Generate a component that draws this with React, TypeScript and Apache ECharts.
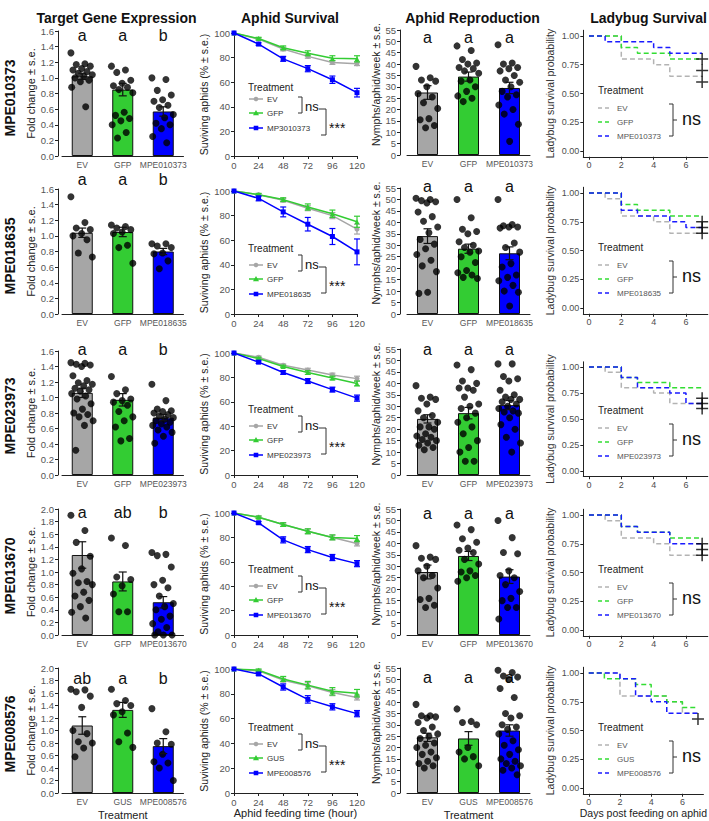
import React, { useEffect, useRef } from "react";
import * as echarts from "echarts";

const FONT = "'Liberation Sans', Arial, Helvetica, sans-serif";

// ---------------- data ----------------
const columnTitles = ["Target Gene Expression", "Aphid Survival", "Aphid Reproduction", "Ladybug Survival"];
const rowGenes = ["MPE010373", "MPE018635", "MPE023973", "MPE013670", "MPE008576"];
const survivalKDLabels = ["MP3010373", "MPE018635", "MPE023973", "MPE013670", "MPE008576"];
const controlNames = ["GFP", "GFP", "GFP", "GFP", "GUS"];

// Target gene expression (fold change)
const geneMax = [1.6, 1.6, 1.6, 2.0, 2.0];
const geneMeans = [
  [1.02, 0.85, 0.57],
  [1.04, 1.05, 0.8],
  [1.06, 0.97, 0.74],
  [1.27, 0.85, 0.52],
  [1.08, 1.33, 0.75],
];
const geneSE = [
  [0.04, 0.08, 0.06],
  [0.06, 0.06, 0.04],
  [0.06, 0.08, 0.04],
  [0.21, 0.15, 0.09],
  [0.14, 0.12, 0.12],
];
const geneLetters = [
  ["a", "a", "b"],
  ["a", "a", "b"],
  ["a", "a", "b"],
  ["a", "ab", "b"],
  ["ab", "a", "b"],
];
const geneDots1 = [
  [1.32, 1.18, 1.17, 1.15, 1.12, 1.1, 1.08, 1.06, 1.04, 1.02, 1.0, 0.97, 0.95, 0.88, 0.63],
  [1.15, 1.1, 1.07, 0.97, 0.93, 0.9, 0.88, 0.85, 0.81, 0.56, 0.52, 0.48, 0.45, 0.4, 0.3, 0.23],
  [1.0, 0.98, 0.84, 0.78, 0.72, 0.7, 0.65, 0.62, 0.53, 0.49, 0.42, 0.4, 0.35, 0.25, 0.17],
];
const geneDots2 = [
  [1.5, 1.17, 1.1, 1.08, 1.03, 1.0, 0.95, 0.78, 0.73],
  [1.14, 1.12, 1.1, 1.08, 1.05, 1.03, 0.88, 0.85, 0.65],
  [0.9, 0.9, 0.87, 0.85, 0.78, 0.77, 0.68, 0.58],
];
const geneDots3 = [
  [1.45, 1.44, 1.43, 1.42, 1.4, 1.28, 1.22, 1.19, 1.17, 1.15, 1.12, 1.1, 1.08, 1.05, 1.02, 0.98, 0.92, 0.85, 0.8, 0.78, 0.75, 0.7, 0.64, 0.32],
  [1.27, 1.1, 1.05, 0.98, 0.96, 0.94, 0.9, 0.82, 0.75, 0.7, 0.62, 0.47, 0.44],
  [1.17, 0.96, 0.85, 0.83, 0.82, 0.8, 0.78, 0.76, 0.74, 0.72, 0.7, 0.68, 0.66, 0.64, 0.62, 0.58, 0.55, 0.5, 0.41],
];
const geneDots4 = [
  [1.9, 1.66, 1.47, 1.25, 1.05, 0.98, 0.85, 0.83, 0.8, 0.68, 0.62, 0.55, 0.45, 0.36, 0.27],
  [1.54, 1.42, 0.92, 0.88, 0.78, 0.65, 0.37, 0.37],
  [1.31, 1.28, 1.26, 1.08, 0.87, 0.8, 0.75, 0.62, 0.5, 0.45, 0.4, 0.3, 0.25, 0.18, 0.12, 0.05, 0.0, 0.0, 0.0],
];
const geneDots5 = [
  [1.66, 1.65, 1.62, 1.55, 1.37, 1.0, 0.95, 0.82, 0.8, 0.72, 0.58],
  [1.66, 1.48, 1.43, 1.4, 1.3, 1.25, 0.96, 0.82, 0.73],
  [1.35, 0.98, 0.8, 0.78, 0.62, 0.5, 0.48, 0.4, 0.2],
];

// Aphid survival (% surviving) at feeding hours
const hours = [0, 24, 48, 72, 96, 120];
const survEV = [
  [100, 95, 87, 81, 76, 75],
  [100, 97, 92.5, 86, 80, 69],
  [100, 96.5, 90, 86, 82, 79],
  [100, 96.5, 90.5, 85, 80, 75],
  [100, 98.5, 91, 86.5, 81, 77],
];
const survCtl = [
  [100, 95.5, 88, 83.5, 79.5, 79],
  [100, 97, 93, 87, 81.5, 75],
  [100, 95.5, 89, 84, 79.5, 75],
  [100, 96.5, 90.5, 85, 80, 79],
  [100, 99, 92, 87, 82, 80.5],
];
const survKD = [
  [100, 91, 79, 71, 62, 51.5],
  [100, 94, 83, 73, 63, 50.5],
  [100, 92.5, 84, 77, 70, 63],
  [100, 92, 78, 70, 63.5, 58.5],
  [100, 96, 85.5, 75.5, 69.5, 64],
];
const survEVse = [
  [0, 1, 1.5, 1.5, 1.5, 1.5],
  [0, 1, 1.5, 2, 2.5, 4],
  [0, 1, 1, 1.5, 1.5, 2],
  [0, 1, 1.5, 2, 2, 2],
  [0, 1, 1.5, 2.5, 2.5, 2],
];
const survCtlSe = [
  [0, 1, 1.5, 2, 2, 2.5],
  [0, 1, 1.5, 2.5, 3, 4.5],
  [0, 1, 1, 1.5, 1.5, 2],
  [0, 1, 1.5, 2, 2, 2.5],
  [0, 1, 2, 3, 3, 3],
];
const survKDse = [
  [0, 1, 2, 2.5, 3, 3.5],
  [0, 2, 4, 5.5, 6.5, 10.5],
  [0, 1, 1.5, 2, 2, 2.5],
  [0, 1, 2.5, 2.5, 2.5, 2.5],
  [0, 1, 2.5, 3, 2.5, 2.5],
];

// Aphid reproduction (nymphs/aphid/week)
const reproMeans = [
  [27.5, 34.5, 29.5],
  [34, 28.5, 26.5],
  [24.5, 27, 30.5],
  [27.5, 34.5, 25.5],
  [24.5, 24, 27.5],
];
const reproSE = [
  [3, 2, 2.5],
  [3.2, 2, 2.8],
  [1.8, 2.5, 2],
  [3, 2, 3],
  [1.8, 3, 2.5],
];
const reproDots1 = [
  [39, 34, 33, 32.5, 30, 27, 25.5, 23, 20.5, 16, 15.5, 13, 12],
  [48, 46, 42, 40.5, 40, 38.5, 38, 37, 36, 33, 32.5, 30, 28, 26, 25, 23.5],
  [48.5, 40.5, 40, 38.5, 38, 37, 35, 33, 32, 30, 28, 26.5, 25.5, 22, 20, 18, 13.5, 6],
];
const reproDots2 = [
  [50.5, 50, 49.5, 49, 48.5, 44.5, 42.5, 40.5, 38, 35.5, 32.5, 30.5, 28.5, 26, 23.5, 21, 18.5, 9.5, 9],
  [50, 42, 37, 36, 35, 31.5, 30, 29, 27.5, 27, 25, 22.5, 19, 18, 17, 16, 15.5],
  [50, 39, 38.5, 38, 38, 37.5, 31, 29, 27, 22, 20.5, 17, 16, 14.5, 12.5, 10, 9.5, 3.5],
];
const reproDots3 = [
  [39, 34, 33.5, 33, 31, 28, 26, 25, 23, 21, 21, 20, 18, 17, 16.5, 15.5, 15, 14, 13, 12, 11],
  [48, 46, 41, 40, 38, 38, 37, 34, 31, 30, 29, 27, 25, 23, 21, 18, 15, 12, 10, 6, 6],
  [48.5, 48.5, 43, 42, 41, 37, 35, 34, 33, 33, 32, 31, 30, 29, 28, 27.5, 27, 25, 22, 20, 16.5, 14, 10],
];
const reproDots4 = [
  [39, 34, 33.5, 33, 30, 28, 26, 25, 20.5, 16, 15.5, 13, 12],
  [48, 46, 42, 40.5, 38, 37, 36, 33, 31, 28, 27.5, 26, 25, 23.5],
  [50, 42.5, 36, 35.5, 28, 26, 25, 22, 19, 16, 15, 12, 12, 7],
];
const reproDots5 = [
  [39, 34, 34, 33.5, 33, 31, 29, 27.5, 26, 25, 24, 22, 21, 20, 18, 17, 15.5, 14, 13, 12, 11],
  [37, 31.5, 31, 30, 20, 18, 16, 15, 12],
  [54, 53, 51.5, 51, 50, 46, 42, 35, 34, 33, 30, 29, 28, 26, 23, 21, 19, 17, 15, 14, 13, 12, 11, 10, 8],
];
const reproLetters = [
  ["a", "a", "a"],
  ["a", "a", "a"],
  ["a", "a", "a"],
  ["a", "a", "a"],
  ["a", "a", "a"],
];

// Ladybug survival (Kaplan–Meier steps: [day, probability])
const kmEV = [
  [[0, 1], [2, 0.8], [4, 0.75], [5, 0.65], [7, 0.65]],
  [[0, 1], [1, 0.95], [2, 0.8], [4, 0.75], [5, 0.65], [7, 0.65]],
  [[0, 1], [1, 0.95], [2, 0.8], [4, 0.75], [5, 0.65], [7, 0.65]],
  [[0, 1], [1, 0.95], [2, 0.8], [4, 0.75], [5, 0.65], [7, 0.65]],
  [[0, 1], [2, 0.8], [5, 0.75], [6, 0.65], [7, 0.65]],
];
const kmCtl = [
  [[0, 1], [2, 0.9], [3, 0.85], [5, 0.8], [7, 0.8]],
  [[0, 1], [2, 0.9], [3, 0.85], [5, 0.8], [7, 0.8]],
  [[0, 1], [2, 0.9], [3, 0.85], [5, 0.8], [7, 0.8]],
  [[0, 1], [2, 0.9], [3, 0.85], [5, 0.8], [7, 0.8]],
  [[0, 1], [1, 0.95], [3, 0.9], [4, 0.8], [5, 0.75], [6, 0.7], [7, 0.7]],
];
const kmKD = [
  [[0, 1], [1, 0.95], [4, 0.9], [5, 0.85], [7, 0.85]],
  [[0, 1], [2, 0.85], [3, 0.8], [5, 0.75], [6, 0.7], [7, 0.7]],
  [[0, 1], [2, 0.9], [3, 0.8], [5, 0.75], [6, 0.65], [7, 0.65]],
  [[0, 1], [2, 0.9], [3, 0.85], [5, 0.75], [7, 0.75]],
  [[0, 1], [2, 0.95], [3, 0.8], [4, 0.75], [5, 0.65], [7, 0.65]],
];
const censorDay = 7;
const censorMarks = [
  [0.8, 0.7, 0.6],
  [0.75, 0.7, 0.65],
  [0.7, 0.65, 0.6],
  [0.75, 0.7, 0.65],
  [0.6],
];
const ladyTicksX = [0, 2, 4, 6];
const ladyTicksY = [0, 0.25, 0.5, 0.75, 1.0];

const geneDots = [geneDots1, geneDots2, geneDots3, geneDots4, geneDots5];
const reproDots = [reproDots1, reproDots2, reproDots3, reproDots4, reproDots5];

// ---------------- layout / style ----------------
const geneTop = [31, 189, 351, 509, 668];
const geneBot = [156, 314, 475, 635, 793];
const survTop = [33, 191, 353, 513, 669];
const survBot = [156, 314, 475, 635, 793];
const reproTop = [30, 188, 349, 509, 668];
const reproBot = [155, 314, 475, 635, 793];
const ladyY1 = [36, 193, 367, 515, 673];
const ladyY0 = [151, 308, 471, 630, 788];
const rowLabelY = [98, 256, 416, 576, 734];
const geneLetterY = [35, 179, 349, 512, 678];
const reproLetterY = [37, 186, 349, 513, 677];

const barColors = ["#a6a6a6", "#33cc33", "#0000ff"];
const lineColors = ["#a6a6a6", "#33cc33", "#0000ff"];
const kmColors = ["#b3b3b3", "#33dd33", "#1a1aff"];
const AX = "#222";
const LBL = "#555";

function jitter(j: number, n: number) {
  if (n <= 1) return 0;
  const f = (j * 0.618034) % 1;
  return (f - 0.5) * 0.56;
}

function errRender(color: string, cap: number, lw: number) {
  return (_params: any, api: any) => {
    const x = api.value(0);
    const lo = api.coord([x, api.value(1)]);
    const hi = api.coord([x, api.value(2)]);
    const st = { stroke: color, lineWidth: lw };
    return {
      type: "group",
      children: [
        { type: "line", shape: { x1: lo[0], y1: lo[1], x2: hi[0], y2: hi[1] }, style: st },
        { type: "line", shape: { x1: lo[0] - cap, y1: lo[1], x2: lo[0] + cap, y2: lo[1] }, style: st },
        { type: "line", shape: { x1: hi[0] - cap, y1: hi[1], x2: hi[0] + cap, y2: hi[1] }, style: st },
      ],
    };
  };
}

const PLUS = "path://M0,5.25h12v1.5h-12z M5.25,0h1.5v12h-1.5z";

function buildOption() {
  const grids: any[] = [];
  const xAxes: any[] = [];
  const yAxes: any[] = [];
  const series: any[] = [];
  const g: any[] = [];

  const addGrid = (o: any) => { grids.push({ containLabel: false, ...o }); return grids.length - 1; };
  const addX = (o: any) => { xAxes.push(o); return xAxes.length - 1; };
  const addY = (o: any) => { yAxes.push(o); return yAxes.length - 1; };

  const axisLine = { show: true, onZero: false, lineStyle: { color: AX, width: 1 } };
  const axisTick = { show: true, length: 3, lineStyle: { color: AX, width: 1 } };
  const lab = (size: number, extra: any = {}) => ({ color: LBL, fontSize: size, fontFamily: FONT, margin: 4, ...extra });
  const nameStyle = (size: number, color = "#222") => ({ color, fontSize: size, fontFamily: FONT });

  const text = (x: number, y: number, t: string, size: number, opts: any = {}) => {
    g.push({
      type: "text",
      x,
      y,
      rotation: opts.rotation || 0,
      silent: true,
      style: {
        text: t,
        fill: opts.color || "#111",
        fontSize: size,
        fontFamily: FONT,
        fontWeight: opts.bold ? "bold" : "normal",
        align: opts.align || "left",
        verticalAlign: opts.valign || "middle",
      },
    });
  };
  const poly = (pts: number[][], color = "#333", lw = 1, dash?: number[]) => {
    g.push({
      type: "polyline",
      silent: true,
      shape: { points: pts },
      style: { stroke: color, fill: null, lineWidth: lw, lineDash: dash },
    });
  };

  // column titles
  const titleX = [116.5, 290, 472.5, 648.5];
  columnTitles.forEach((t, i) => text(titleX[i], 18, t, 14, { bold: true, align: "center" }));

  for (let r = 0; r < 5; r++) {
    const last = r === 4;
    const cats = ["EV", controlNames[r], rowGenes[r]];

    // row label
    text(10, rowLabelY[r], rowGenes[r], 14, { bold: true, align: "center", rotation: Math.PI / 2 });

    // ---------- gene expression ----------
    {
      const left = 62, width = 121.5;
      const gi = addGrid({ left, top: geneTop[r], width, height: geneBot[r] - geneTop[r] });
      const cx = addX({
        type: "category", gridIndex: gi, data: cats,
        axisLine, axisTick: { show: false },
        axisLabel: lab(8.5, { interval: 0 }),
        name: last ? "Treatment" : "", nameLocation: "middle", nameGap: 16,
        nameTextStyle: nameStyle(11),
      });
      const vx = addX({ type: "value", gridIndex: gi, min: -0.5, max: 2.5, show: false });
      const gy = addY({
        type: "value", gridIndex: gi, min: 0, max: geneMax[r], interval: 0.2, offset: 4,
        axisLine, axisTick, splitLine: { show: false },
        axisLabel: lab(9.5, { formatter: (v: number) => v.toFixed(1) }),
        name: "Fold change ± s.e.", nameLocation: "middle", nameRotate: 90, nameGap: 20,
        nameTextStyle: nameStyle(11),
      });
      series.push({
        type: "bar", xAxisIndex: cx, yAxisIndex: gy, barWidth: 21, z: 2, silent: true,
        itemStyle: { borderColor: "#111", borderWidth: 1 },
        data: geneMeans[r].map((v, i) => ({ value: v, itemStyle: { color: barColors[i] } })),
      });
      series.push({
        type: "scatter", xAxisIndex: vx, yAxisIndex: gy, symbolSize: 7, z: 3, silent: true,
        itemStyle: { color: "#000" },
        data: geneDots[r].flatMap((arr, i) => arr.map((v, j) => [i + jitter(j, arr.length), v])),
      });
      series.push({
        type: "custom", xAxisIndex: cx, yAxisIndex: gy, z: 4, silent: true,
        renderItem: errRender("#111", 4, 1.2),
        encode: { x: 0, y: [1, 2] },
        data: geneMeans[r].map((m, i) => [i, m - geneSE[r][i], m + geneSE[r][i]]),
      });
      const cw = width / 3;
      geneLetters[r].forEach((t, i) => text(left + cw * (i + 0.5), geneLetterY[r], t, 16, { align: "center" }));
    }

    // ---------- aphid survival ----------
    {
      const left = 234, width = 123;
      const gi = addGrid({ left, top: survTop[r], width, height: survBot[r] - survTop[r] });
      const sx = addX({
        type: "value", gridIndex: gi, min: 0, max: 120, interval: 24,
        axisLine, axisTick, splitLine: { show: false },
        axisLabel: lab(9.5),
        name: last ? "Aphid feeding time (hour)" : "", nameLocation: "middle", nameGap: 14,
        nameTextStyle: nameStyle(11),
      });
      const sy = addY({
        type: "value", gridIndex: gi, min: 0, max: 100, interval: 20,
        axisLine, axisTick, splitLine: { show: false },
        axisLabel: lab(9.5),
        name: "Suviving aphids (% ± s.e.)", nameLocation: "middle", nameRotate: 90, nameGap: 25,
        nameTextStyle: nameStyle(10.5),
      });
      const sets = [
        { vals: survEV[r], se: survEVse[r], sym: "circle" },
        { vals: survCtl[r], se: survCtlSe[r], sym: "triangle" },
        { vals: survKD[r], se: survKDse[r], sym: "rect" },
      ];
      sets.forEach((s, k) => {
        series.push({
          type: "line", xAxisIndex: sx, yAxisIndex: sy, silent: true, z: 3 + k,
          symbol: s.sym, symbolSize: 5, showSymbol: true,
          lineStyle: { color: lineColors[k], width: 1.5 },
          itemStyle: { color: lineColors[k] },
          data: hours.map((h, i) => [h, s.vals[i]]),
        });
        series.push({
          type: "custom", xAxisIndex: sx, yAxisIndex: sy, silent: true, z: 3 + k,
          renderItem: errRender(lineColors[k], 3, 1.2),
          encode: { x: 0, y: [1, 2] },
          data: hours
            .map((h, i) => [h, s.vals[i] - s.se[i], s.vals[i] + s.se[i]])
            .filter((_d, i) => s.se[i] > 0),
        });
      });
      // legend
      const B = survBot[r];
      text(248, r === 0 ? B - 69 : B - 66, "Treatment", 10, { color: "#222" });
      const ys = r === 0 ? [B - 57, B - 43, B - 28] : [B - 49, B - 35, B - 20];
      const names = ["EV", controlNames[r], survivalKDLabels[r]];
      ys.forEach((y, k) => {
        poly([[249, y], [263, y]], lineColors[k], 1.5);
        if (k === 0) g.push({ type: "circle", silent: true, shape: { cx: 256, cy: y, r: 2.3 }, style: { fill: lineColors[k] } });
        if (k === 1) g.push({ type: "polygon", silent: true, shape: { points: [[256, y - 3], [259, y + 2.2], [253, y + 2.2]] }, style: { fill: lineColors[k] } });
        if (k === 2) g.push({ type: "rect", silent: true, shape: { x: 253.7, y: y - 2.3, width: 4.6, height: 4.6 }, style: { fill: lineColors[k] } });
        text(267, y, names[k], 8, { color: "#333" });
      });
      poly([[298, B - 59], [302, B - 59], [302, B - 43], [298, B - 43]], "#333", 1);
      text(305, B - 50, "ns", 13, { color: "#111" });
      poly([[319, B - 47], [326, B - 47], [326, B - 21], [321, B - 21]], "#333", 1);
      text(329, B - 28, "***", 14, { color: "#111" });
    }

    // ---------- aphid reproduction ----------
    {
      const left = 407, width = 123;
      const gi = addGrid({ left, top: reproTop[r], width, height: reproBot[r] - reproTop[r] });
      const cx = addX({
        type: "category", gridIndex: gi, data: cats,
        axisLine, axisTick: { show: false },
        axisLabel: lab(8.5, { interval: 0 }),
        name: last ? "Treatment" : "", nameLocation: "middle", nameGap: 16,
        nameTextStyle: nameStyle(11),
      });
      const vx = addX({ type: "value", gridIndex: gi, min: -0.5, max: 2.5, show: false });
      const ry = addY({
        type: "value", gridIndex: gi, min: 0, max: 55, interval: 5, offset: 7,
        axisLine, axisTick, splitLine: { show: false },
        axisLabel: lab(9.5),
        name: "Nymphs/aphid/week ± s.e.", nameLocation: "middle", nameRotate: 90, nameGap: 17,
        nameTextStyle: { ...nameStyle(10.5), padding: [0, 0, 0, 16] },
      });
      series.push({
        type: "bar", xAxisIndex: cx, yAxisIndex: ry, barWidth: 21, z: 2, silent: true,
        itemStyle: { borderColor: "#111", borderWidth: 1 },
        data: reproMeans[r].map((v, i) => ({ value: v, itemStyle: { color: barColors[i] } })),
      });
      series.push({
        type: "scatter", xAxisIndex: vx, yAxisIndex: ry, symbolSize: 7, z: 3, silent: true,
        itemStyle: { color: "#000" },
        data: reproDots[r].flatMap((arr, i) => arr.map((v, j) => [i + jitter(j, arr.length), v])),
      });
      series.push({
        type: "custom", xAxisIndex: cx, yAxisIndex: ry, z: 4, silent: true,
        renderItem: errRender("#111", 4, 1.2),
        encode: { x: 0, y: [1, 2] },
        data: reproMeans[r].map((m, i) => [i, m - reproSE[r][i], m + reproSE[r][i]]),
      });
      const cw = width / 3;
      reproLetters[r].forEach((t, i) => text(left + cw * (i + 0.5), reproLetterY[r], t, 16, { align: "center" }));
    }

    // ---------- ladybug survival ----------
    {
      const h = ladyY0[r] - ladyY1[r];
      const top = ladyY1[r] - 0.05 * h;
      const left = 583.3, width = 124.5;
      const gi = addGrid({ left, top, width, height: h * 1.1 });
      const lx = addX({
        type: "value", gridIndex: gi, min: -0.35, max: 7.35,
        axisLine, axisTick: { ...axisTick, customValues: ladyTicksX },
        splitLine: { show: false },
        axisLabel: lab(9, { customValues: ladyTicksX, color: "#4d4d4d" }),
        name: last ? "Days post feeding on aphid" : "", nameLocation: "middle", nameGap: 14,
        nameTextStyle: nameStyle(10.5),
      });
      const ly = addY({
        type: "value", gridIndex: gi, min: -0.05, max: 1.05,
        axisLine, axisTick: { ...axisTick, customValues: ladyTicksY },
        splitLine: { show: false },
        axisLabel: lab(9, { customValues: ladyTicksY, color: "#4d4d4d", formatter: (v: number) => v.toFixed(2) }),
        name: "Ladybug survival probability", nameLocation: "middle", nameRotate: 90, nameGap: 28,
        nameTextStyle: nameStyle(10.5, "#333"),
      });
      [kmEV[r], kmCtl[r], kmKD[r]].forEach((pts, k) => {
        series.push({
          type: "line", xAxisIndex: lx, yAxisIndex: ly, step: "end", symbol: "none", silent: true, z: 3 + k,
          lineStyle: { color: kmColors[k], width: 1.5, type: [5, 3] },
          data: pts,
        });
      });
      series.push({
        type: "scatter", xAxisIndex: lx, yAxisIndex: ly, symbol: PLUS, symbolSize: 12, z: 7, silent: true,
        itemStyle: { color: "#000" },
        data: censorMarks[r].map((v) => [censorDay, v]),
      });
      // legend
      const Y0 = ladyY0[r];
      text(598, Y0 - 61, "Treatment", 10, { color: "#222" });
      const names = ["EV", controlNames[r], rowGenes[r]];
      [Y0 - 43, Y0 - 29, Y0 - 15].forEach((y, k) => {
        poly([[598, y], [612, y]], kmColors[k], 1.5, [4, 3]);
        text(617, y, names[k], 8, { color: "#555" });
      });
      poly([[669, Y0 - 47], [673, Y0 - 47], [673, Y0 - 15], [669, Y0 - 15]], "#333", 1);
      poly([[673, Y0 - 31], [677, Y0 - 31]], "#333", 1);
      text(682, Y0 - 32, "ns", 18, { color: "#111" });
    }
  }

  return {
    animation: false,
    backgroundColor: "#ffffff",
    grid: grids,
    xAxis: xAxes,
    yAxis: yAxes,
    series,
    graphic: g,
  };
}

export default function App() {
  const ref = useRef<HTMLDivElement>(null);
  useEffect(() => {
    if (!ref.current) return;
    const chart = echarts.init(ref.current, undefined, { renderer: "svg", width: 709, height: 821 });
    chart.setOption(buildOption() as any);
    return () => chart.dispose();
  }, []);
  return (
    <div
      ref={ref}
      style={{ position: "absolute", left: 0, top: 0, width: 709, height: 821, background: "#fff" }}
    />
  );
}
